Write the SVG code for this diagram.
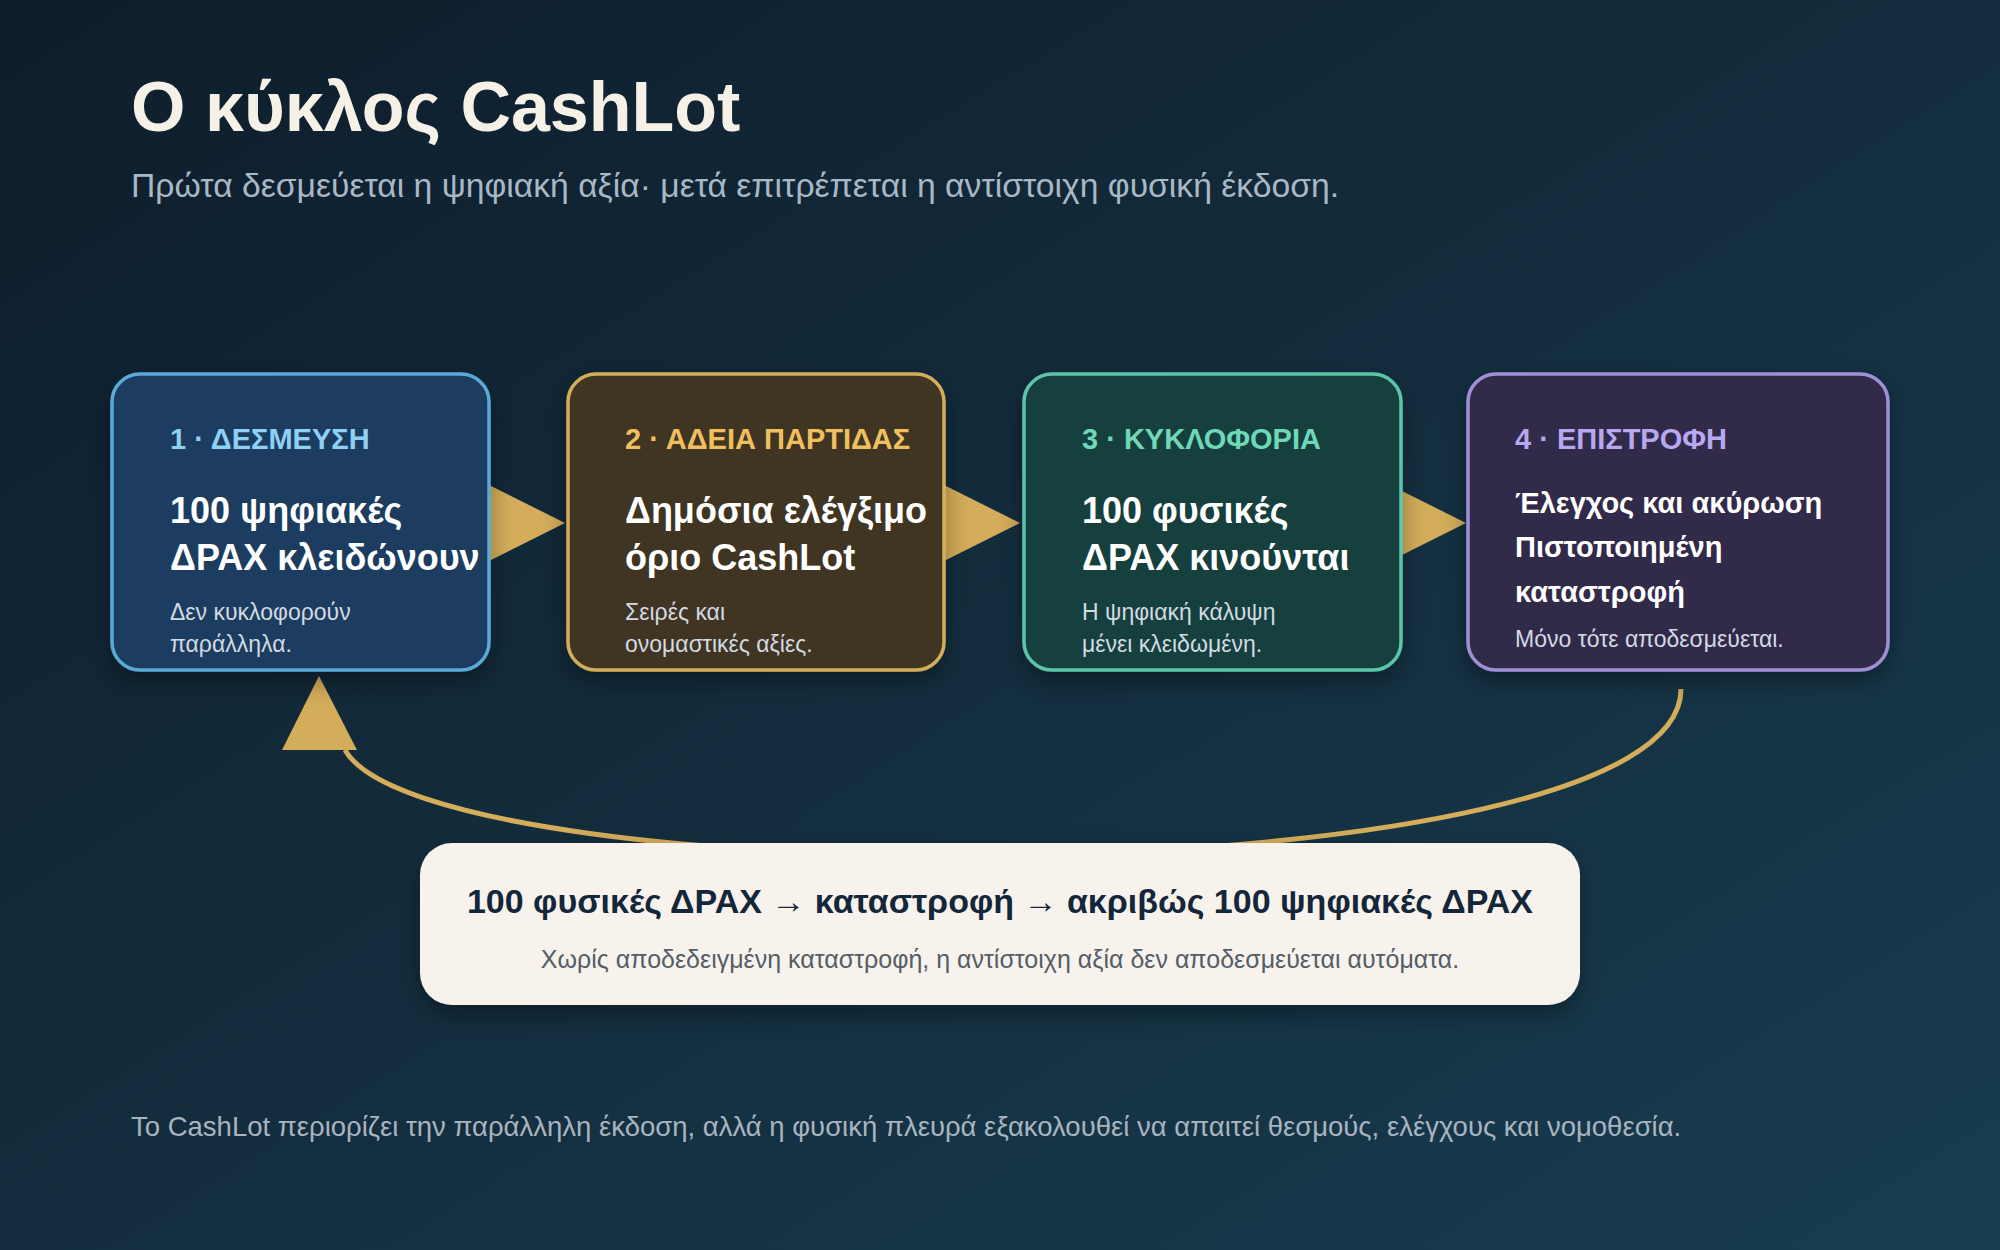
<svg xmlns="http://www.w3.org/2000/svg" width="2000" height="1250" viewBox="0 0 2000 1250">
<defs>
<linearGradient id="bg" x1="0" y1="0" x2="1" y2="1"><stop offset="0" stop-color="#0e1d2b"/><stop offset="1" stop-color="#183d50"/></linearGradient>
<filter id="sh" x="-20%" y="-20%" width="140%" height="150%"><feDropShadow dx="0" dy="10" stdDeviation="12" flood-color="#000" flood-opacity="0.35"/></filter>
<style>
text{font-family:"Liberation Sans","Noto Sans",sans-serif}
.lab{font-size:29px;font-weight:700}
.ttl{font-size:36px;font-weight:700;fill:#fff}
.ttl4{font-size:29px;font-weight:700;fill:#fff}
.sm{font-size:23px;fill:#d2dae2}
.box{stroke-width:3.5}
</style>
</defs>
<rect width="2000" height="1250" fill="url(#bg)"/>
<text x="131" y="131" font-size="70" font-weight="700" fill="#f6f1e7">Ο κύκλος CashLot</text>
<text x="131" y="197" font-size="33.7" fill="#a9b8c6">Πρώτα δεσμεύεται η ψηφιακή αξία· μετά επιτρέπεται η αντίστοιχη φυσική έκδοση.</text>
<g id="connectors" fill="#d4ad5a">
<path d="M1681 689 C1681 900 430 900 345 750" fill="none" stroke="#d4ad5a" stroke-width="5"/>
<polygon points="282,750 357,750 319,676"/>
<polygon points="489,485 489,561 565,523"/>
<polygon points="944,485 944,561 1020,523"/>
<polygon points="1390,485 1390,561 1466,523"/>
</g>
<g id="n1"><rect class="box" x="112" y="374" width="377" height="296" rx="28" fill="#1a3c5e" stroke="#5aa9d6" filter="url(#sh)"/>
<text class="lab" x="170" y="449" fill="#8fd0f5">1 · ΔΕΣΜΕΥΣΗ</text>
<text class="ttl" x="170" y="523">100 ψηφιακές</text><text class="ttl" x="170" y="570">ΔΡΑΧ κλειδώνουν</text>
<text class="sm" x="170" y="620">Δεν κυκλοφορούν</text><text class="sm" x="170" y="652">παράλληλα.</text></g>
<g id="n2"><rect class="box" x="568" y="374" width="376" height="296" rx="28" fill="#3f3522" stroke="#d4ad5a" filter="url(#sh)"/>
<text class="lab" x="625" y="449" fill="#f0c060">2 · ΑΔΕΙΑ ΠΑΡΤΙΔΑΣ</text>
<text class="ttl" x="625" y="523">Δημόσια ελέγξιμο</text><text class="ttl" x="625" y="570">όριο CashLot</text>
<text class="sm" x="625" y="620">Σειρές και</text><text class="sm" x="625" y="652">ονομαστικές αξίες.</text></g>
<g id="n3"><rect class="box" x="1024" y="374" width="377" height="296" rx="28" fill="#183f3c" stroke="#5cc4a8" filter="url(#sh)"/>
<text class="lab" x="1082" y="449" fill="#6fd8b8">3 · ΚΥΚΛΟΦΟΡΙΑ</text>
<text class="ttl" x="1082" y="523">100 φυσικές</text><text class="ttl" x="1082" y="570">ΔΡΑΧ κινούνται</text>
<text class="sm" x="1082" y="620">Η ψηφιακή κάλυψη</text><text class="sm" x="1082" y="652">μένει κλειδωμένη.</text></g>
<g id="n4"><rect class="box" x="1468" y="374" width="420" height="296" rx="28" fill="#302c48" stroke="#a08fd6" filter="url(#sh)"/>
<text class="lab" x="1515" y="449" fill="#b8a8f0">4 · ΕΠΙΣΤΡΟΦΗ</text>
<text class="ttl4" x="1515" y="513">Έλεγχος και ακύρωση</text><text class="ttl4" x="1515" y="557">Πιστοποιημένη</text><text class="ttl4" x="1515" y="602">καταστροφή</text>
<text class="sm" x="1515" y="647" font-size="21">Μόνο τότε αποδεσμεύεται.</text></g>
<g id="n5"><rect x="420" y="843" width="1160" height="162" rx="32" fill="#f7f3ec" filter="url(#sh)"/>
<text x="1000" y="913" text-anchor="middle" font-size="34" font-weight="700" fill="#14263a">100 φυσικές ΔΡΑΧ → καταστροφή → ακριβώς 100 ψηφιακές ΔΡΑΧ</text>
<text x="1000" y="968" text-anchor="middle" font-size="25" fill="#555d66">Χωρίς αποδεδειγμένη καταστροφή, η αντίστοιχη αξία δεν αποδεσμεύεται αυτόματα.</text></g>
<text x="131" y="1136" font-size="27.5" fill="#a8b4c0">Το CashLot περιορίζει την παράλληλη έκδοση, αλλά η φυσική πλευρά εξακολουθεί να απαιτεί θεσμούς, ελέγχους και νομοθεσία.</text>
</svg>
